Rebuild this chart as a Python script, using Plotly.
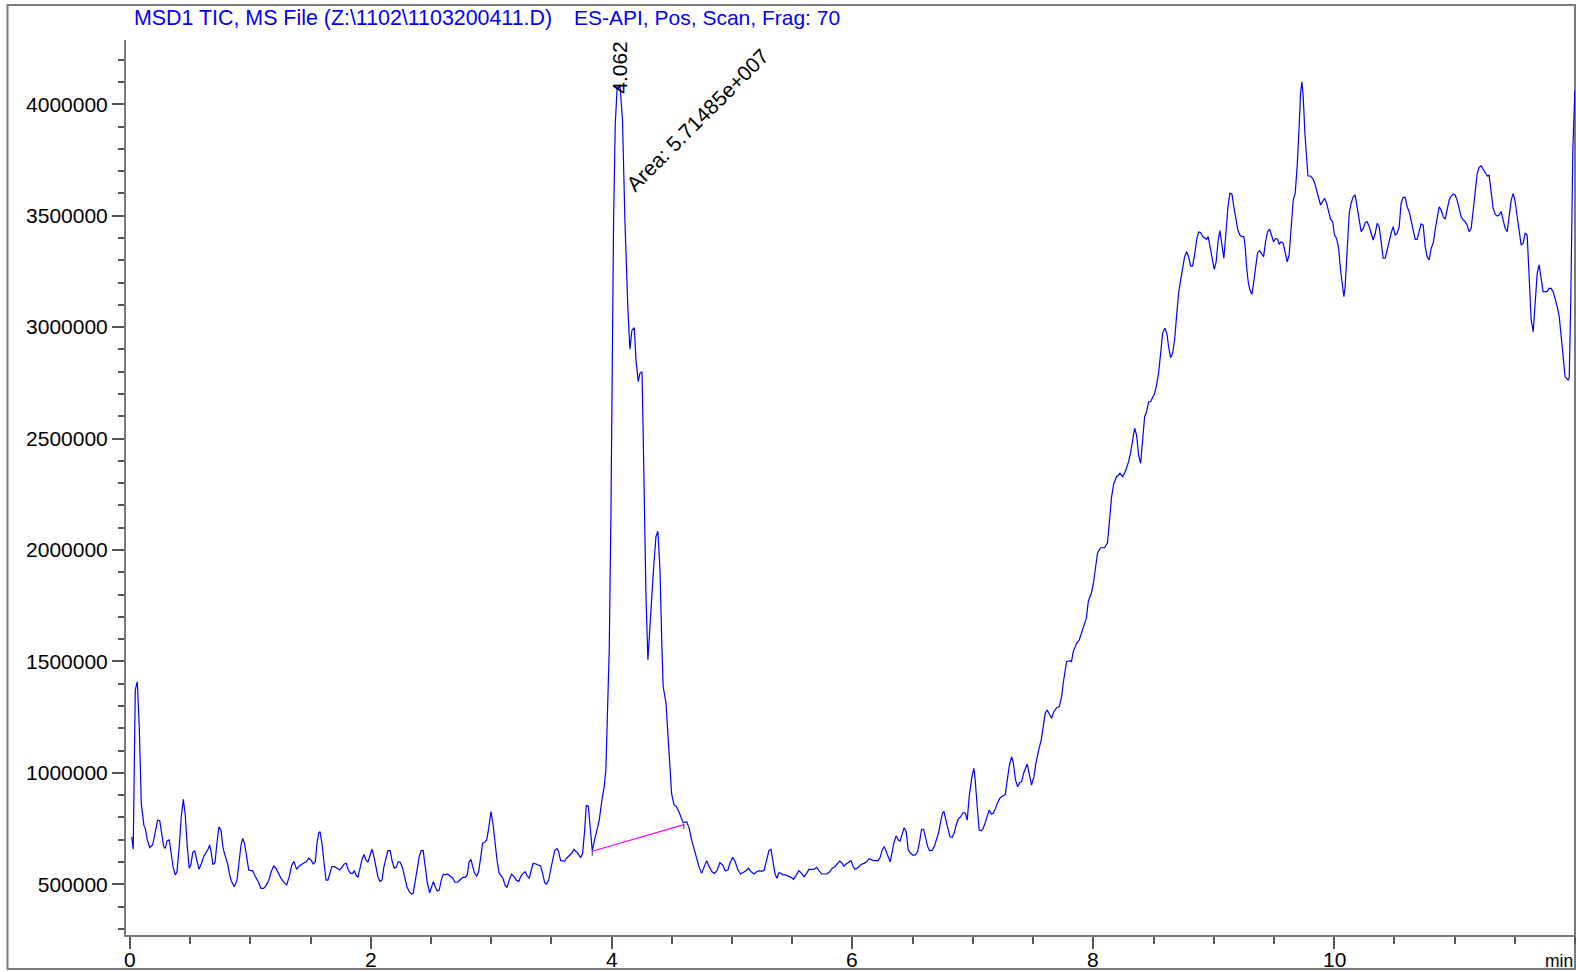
import plotly.graph_objects as go

# ---------------- data (retention time in min, TIC counts) ----------------
# 0 - 3.95 min : baseline region
seg1_t = [0.014,0.027,0.044,0.061,0.077,0.094,0.116,0.127,0.144,0.164,
          0.188,0.210,0.230,0.247,0.263,0.280,0.293,0.307,0.326,0.343,
          0.360,0.376,0.390,0.409,0.426,0.443,0.459,0.476,0.492,0.507,
          0.521,0.537,0.554,0.573,0.592,0.612,0.631,0.648,0.662,0.675,
          0.689,0.706,0.722,0.739,0.756,0.772,0.789,0.811,0.825,0.841,
          0.866,0.888,0.908,0.922,0.936,0.952,0.969,0.986,1.002,1.019,
          1.035,1.052,1.069,1.088,1.110,1.129,1.152,1.173,1.193,1.212,
          1.235,1.256,1.281,1.301,1.323,1.343,1.362,1.384,1.406,1.426,
          1.447,1.464,1.484,1.503,1.522,1.539,1.553,1.567,1.578,1.594,
          1.611,1.628,1.644,1.661,1.677,1.700,1.721,1.741,1.760,1.779,
          1.796,1.813,1.833,1.849,1.863,1.877,1.893,1.910,1.926,1.943,
          1.959,1.976,1.993,2.009,2.026,2.043,2.059,2.076,2.093,2.109,
          2.126,2.142,2.161,2.178,2.195,2.211,2.228,2.244,2.264,2.281,
          2.300,2.319,2.339,2.352,2.369,2.386,2.402,2.419,2.435,2.452,
          2.469,2.489,2.505,2.519,2.535,2.552,2.568,2.585,2.602,2.618,
          2.638,2.657,2.680,2.699,2.721,2.740,2.763,2.784,2.801,2.817,
          2.832,2.846,2.862,2.879,2.895,2.912,2.928,2.945,2.962,2.979,
          2.998,3.014,3.031,3.048,3.064,3.081,3.097,3.114,3.130,3.150,
          3.169,3.189,3.208,3.228,3.247,3.266,3.282,3.299,3.316,3.332,
          3.349,3.371,3.394,3.410,3.427,3.444,3.460,3.477,3.493,3.510,
          3.527,3.546,3.560,3.576,3.593,3.610,3.626,3.648,3.668,3.687,
          3.706,3.726,3.742,3.759,3.776,3.789,3.806,3.822,3.839,3.855,
          3.875,3.897,3.919,3.938,3.952]
seg1_i = [713000,657000,1372000,1409000,1207000,863000,763000,751000,699000,664000,
          676000,736000,788000,785000,729000,669000,661000,695000,699000,639000,
          572000,542000,556000,669000,803000,881000,811000,669000,572000,591000,
          642000,651000,609000,567000,591000,624000,642000,657000,676000,642000,
          588000,597000,684000,758000,743000,664000,631000,591000,549000,516000,
          489000,516000,609000,676000,706000,681000,624000,564000,561000,561000,
          542000,527000,507000,482000,482000,494000,516000,556000,582000,572000,
          546000,525000,507000,497000,534000,586000,603000,567000,582000,591000,
          597000,601000,617000,609000,591000,601000,684000,729000,736000,684000,
          594000,519000,519000,549000,579000,579000,572000,564000,576000,591000,
          594000,564000,549000,549000,561000,542000,531000,572000,609000,634000,
          609000,599000,627000,657000,624000,579000,534000,512000,519000,579000,
          624000,651000,651000,601000,572000,576000,601000,599000,572000,527000,
          489000,467000,456000,459000,519000,579000,624000,651000,651000,579000,
          507000,462000,489000,512000,489000,470000,474000,519000,545000,542000,
          546000,537000,527000,509000,509000,519000,531000,531000,542000,601000,
          612000,579000,549000,537000,556000,617000,684000,687000,699000,751000,
          826000,774000,684000,609000,552000,537000,527000,497000,485000,519000,
          546000,534000,519000,512000,537000,549000,556000,537000,527000,564000,
          594000,591000,586000,582000,549000,507000,501000,519000,564000,609000,
          651000,661000,646000,606000,606000,604000,617000,631000,639000,657000,
          646000,634000,619000,639000,743000,853000,851000,758000,651000,691000,
          736000,788000,878000,938000,1013000]

# 3.96 - 4.58 min : main peak (RT 4.062)
seg2_t = [3.963,3.980,3.994,4.005,4.016,4.030,4.046,4.058,4.069,4.090,
          4.110,4.135,4.152,4.168,4.188,4.202,4.221,4.235,4.252,4.262,
          4.274,4.285,4.301,4.318,4.334,4.351,4.368,4.384,4.401,4.418,
          4.428,4.451,4.467,4.484,4.498,4.517,4.540,4.561,4.581]
seg2_i = [1194000,1555000,2156000,2877000,3477000,3910000,4078000,4071000,4088000,3929000,
          3481000,3077000,2901000,2985000,2997000,2852000,2756000,2793000,2800000,2516000,
          2156000,1795000,1507000,1675000,1795000,1939000,2060000,2084000,1915000,1555000,
          1386000,1315000,1170000,1002000,906000,858000,846000,822000,798000]

# 4.59 - 7.88 min : after the peak, start of the rise
seg3_t = [4.594,4.623,4.644,4.664,4.683,4.706,4.725,4.747,4.766,4.789,
          4.810,4.833,4.855,4.877,4.899,4.922,4.943,4.966,4.982,5.005,
          5.026,5.049,5.071,5.093,5.115,5.137,5.159,5.182,5.204,5.225,
          5.248,5.267,5.287,5.306,5.323,5.339,5.356,5.372,5.389,5.406,
          5.422,5.445,5.466,5.489,5.511,5.533,5.555,5.578,5.599,5.619,
          5.638,5.661,5.682,5.702,5.721,5.744,5.765,5.788,5.810,5.832,
          5.854,5.876,5.893,5.910,5.929,5.948,5.968,5.987,6.004,6.020,
          6.039,6.059,6.078,6.097,6.117,6.136,6.155,6.175,6.194,6.213,
          6.230,6.247,6.264,6.280,6.297,6.313,6.330,6.346,6.363,6.380,
          6.396,6.413,6.429,6.446,6.463,6.483,6.502,6.521,6.541,6.557,
          6.574,6.591,6.607,6.624,6.640,6.660,6.679,6.699,6.715,6.732,
          6.748,6.759,6.776,6.792,6.809,6.828,6.845,6.861,6.878,6.898,
          6.917,6.936,6.953,6.969,6.992,7.008,7.019,7.036,7.052,7.069,
          7.085,7.102,7.119,7.135,7.152,7.168,7.185,7.202,7.224,7.246,
          7.268,7.285,7.301,7.321,7.334,7.354,7.371,7.388,7.404,7.421,
          7.438,7.451,7.467,7.487,7.507,7.523,7.546,7.567,7.584,7.600,
          7.617,7.634,7.653,7.672,7.695,7.717,7.737,7.750,7.764,7.778,
          7.805,7.819,7.833,7.861,7.883]
seg3_i = [776000,781000,751000,699000,661000,624000,579000,549000,572000,606000,
          579000,556000,549000,564000,597000,586000,561000,564000,594000,621000,
          601000,564000,546000,552000,561000,572000,556000,546000,556000,561000,
          558000,564000,609000,651000,657000,594000,549000,527000,552000,549000,
          542000,542000,537000,531000,522000,542000,561000,549000,534000,549000,
          567000,567000,567000,576000,561000,546000,546000,546000,556000,572000,
          579000,591000,604000,597000,582000,591000,601000,606000,582000,567000,
          572000,582000,591000,594000,601000,615000,609000,606000,606000,606000,
          621000,654000,669000,646000,624000,601000,646000,691000,717000,699000,
          695000,729000,754000,736000,654000,639000,631000,631000,646000,691000,
          747000,747000,706000,669000,651000,651000,669000,699000,731000,781000,
          821000,826000,788000,743000,713000,711000,731000,766000,792000,803000,
          821000,821000,788000,893000,983000,1020000,968000,848000,743000,740000,
          751000,776000,803000,833000,815000,818000,836000,863000,886000,896000,
          901000,968000,1028000,1072000,1050000,968000,938000,956000,960000,998000,
          1020000,1040000,998000,945000,983000,1043000,1102000,1147000,1207000,1267000,
          1282000,1267000,1245000,1274000,1292000,1297000,1342000,1402000,1461000,1499000,
          1503000,1499000,1544000,1581000,1596000]

# 7.94 - 8.19 min
seg4_t = [7.942,7.959,7.984,8.001,8.018,8.035,8.060,8.093,8.118,8.134,8.151,8.168,8.193]
seg4_i = [1694000,1771000,1807000,1852000,1933000,1987000,2010000,2010000,2032000,2122000,
          2235000,2294000,2330000]

# 8.20 - 12.0 min : high plateau
seg5_t = [8.198,8.221,8.243,8.265,8.293,8.309,8.326,8.343,8.359,8.376,
          8.393,8.409,8.426,8.442,8.459,8.476,8.492,8.509,8.525,8.542,
          8.559,8.575,8.594,8.611,8.625,8.642,8.658,8.675,8.691,8.708,
          8.725,8.741,8.758,8.775,8.791,8.808,8.824,8.841,8.858,8.874,
          8.891,8.908,8.924,8.941,8.954,8.971,8.987,9.004,9.020,9.037,
          9.051,9.068,9.084,9.101,9.118,9.134,9.151,9.167,9.184,9.200,
          9.217,9.234,9.250,9.261,9.273,9.286,9.300,9.317,9.331,9.347,
          9.364,9.381,9.397,9.414,9.430,9.447,9.464,9.480,9.497,9.513,
          9.530,9.543,9.560,9.577,9.593,9.610,9.626,9.643,9.660,9.676,
          9.693,9.709,9.721,9.732,9.743,9.757,9.771,9.782,9.804,9.821,
          9.837,9.854,9.871,9.887,9.904,9.920,9.937,9.954,9.970,9.987,
          10.003,10.020,10.037,10.053,10.070,10.081,10.091,10.108,10.125,10.141,
          10.158,10.174,10.191,10.208,10.224,10.241,10.258,10.274,10.291,10.307,
          10.324,10.341,10.357,10.374,10.390,10.407,10.424,10.440,10.457,10.473,
          10.490,10.507,10.523,10.540,10.556,10.573,10.590,10.606,10.623,10.639,
          10.656,10.673,10.689,10.706,10.722,10.739,10.756,10.772,10.789,10.806,
          10.822,10.839,10.855,10.872,10.889,10.905,10.922,10.939,10.955,10.972,
          10.988,11.005,11.021,11.038,11.055,11.071,11.088,11.104,11.121,11.138,
          11.154,11.171,11.188,11.204,11.221,11.237,11.254,11.271,11.287,11.304,
          11.320,11.337,11.354,11.370,11.387,11.403,11.420,11.437,11.453,11.470,
          11.487,11.503,11.520,11.536,11.553,11.569,11.586,11.603,11.619,11.636,
          11.653,11.669,11.686,11.702,11.719,11.735,11.752,11.769,11.785,11.802,
          11.819,11.835,11.852,11.869,11.885,11.902,11.918,11.943,11.952,11.965,
          11.982,11.999]
seg5_i = [2329000,2344000,2329000,2351000,2396000,2434000,2493000,2546000,2516000,2426000,
          2389000,2508000,2598000,2620000,2665000,2665000,2688000,2703000,2740000,2793000,
          2882000,2972000,2995000,2972000,2912000,2863000,2882000,2942000,3047000,3152000,
          3211000,3264000,3316000,3338000,3316000,3274000,3274000,3324000,3391000,3427000,
          3424000,3406000,3398000,3394000,3406000,3361000,3309000,3259000,3293000,3391000,
          3433000,3368000,3309000,3421000,3540000,3600000,3597000,3540000,3488000,3436000,
          3413000,3406000,3406000,3361000,3271000,3204000,3166000,3147000,3197000,3271000,
          3334000,3343000,3328000,3316000,3383000,3428000,3439000,3406000,3383000,3398000,
          3394000,3373000,3383000,3376000,3338000,3293000,3324000,3451000,3570000,3600000,
          3720000,3899000,4049000,4101000,4034000,3870000,3750000,3678000,3678000,3668000,
          3648000,3615000,3570000,3548000,3563000,3578000,3556000,3513000,3484000,3473000,
          3413000,3398000,3354000,3256000,3166000,3136000,3181000,3361000,3511000,3556000,
          3585000,3593000,3540000,3473000,3428000,3443000,3469000,3473000,3451000,3421000,
          3391000,3421000,3466000,3451000,3391000,3309000,3309000,3346000,3391000,3421000,
          3451000,3413000,3421000,3451000,3556000,3582000,3582000,3540000,3518000,3481000,
          3436000,3394000,3394000,3436000,3463000,3458000,3361000,3316000,3301000,3354000,
          3376000,3436000,3495000,3540000,3525000,3495000,3484000,3533000,3570000,3588000,
          3597000,3593000,3570000,3533000,3495000,3481000,3473000,3458000,3428000,3443000,
          3525000,3630000,3690000,3717000,3723000,3708000,3690000,3678000,3682000,3600000,
          3533000,3507000,3498000,3503000,3518000,3481000,3443000,3428000,3495000,3570000,
          3600000,3563000,3495000,3421000,3368000,3376000,3421000,3413000,3226000,3032000,
          2979000,3122000,3241000,3279000,3226000,3159000,3159000,3159000,3174000,3174000,
          3159000,3129000,3092000,3047000,2957000,2867000,2777000,2763000,2772000,3122000,
          3795000,4064000]

# integration baseline of the 4.062 min peak
baseline_t = [3.839, 4.600]
baseline_i = [648000, 768000]

peak_rt_label = "4.062"
peak_area_label = "Area: 5.71485e+007"
peak_rt_pos = (4.069, 4168000)
peak_area_pos = (4.717, 3931000)

x_tickvals = [0, 2, 4, 6, 8, 10]
x_ticktext = ["0", "2", "4", "6", "8", "10"]
y_tickvals = [500000, 1000000, 1500000, 2000000, 2500000, 3000000, 3500000, 4000000]
y_ticktext = ["500000", "1000000", "1500000", "2000000", "2500000", "3000000", "3500000", "4000000"]

title_part1 = "MSD1 TIC, MS File (Z:\\1102\\1103200411.D)"
title_part2 = "ES-API, Pos, Scan, Frag: 70"

# ---------------- figure ----------------
time_min = seg1_t + seg2_t + seg3_t + seg4_t + seg5_t
tic = seg1_i + seg2_i + seg3_i + seg4_i + seg5_i

FONT = "Liberation Sans, Arial, sans-serif"
W, H = 1576, 972
L, R, T, B = 126, 1, 40, 37
PW, PH = W - L - R, H - T - B

def px(xp):
    return (xp - L) / PW

def py(yp):
    return (H - B - yp) / PH

fig = go.Figure()
fig.add_trace(go.Scatter(x=time_min, y=tic, mode="lines",
                         line=dict(color="#0000FF", width=1.2), hoverinfo="skip"))
fig.add_trace(go.Scatter(x=baseline_t, y=baseline_i, mode="lines",
                         line=dict(color="#FF00FF", width=1.2), hoverinfo="skip"))
# small black markers at the baseline end points
tick_len = 20000
mk_x, mk_y = [], []
for bt, bi in zip(baseline_t, baseline_i):
    mk_x += [bt, bt, None]
    mk_y += [bi + 2000, bi - tick_len, None]
fig.add_trace(go.Scatter(x=mk_x, y=mk_y, mode="lines",
                         line=dict(color="#333333", width=1), hoverinfo="skip"))

axis_common = dict(showgrid=False, zeroline=False, showline=True, linecolor="#7a7a7a",
                   linewidth=2, ticks="outside", tickcolor="#555555", tickwidth=1.5,
                   automargin=False,
                   tickfont=dict(family=FONT, size=21, color="black"))

fig.update_layout(
    width=W, height=H,
    margin=dict(l=L, r=R, t=T, b=B, pad=0, autoexpand=False),
    paper_bgcolor="white", plot_bgcolor="white",
    showlegend=False,
    font=dict(family=FONT, size=21, color="black"),
    xaxis=dict(range=[-0.033, 12.0], tickmode="array", tickvals=x_tickvals, ticktext=x_ticktext,
               ticklen=12, showticklabels=False,
               minor=dict(tickmode="linear", tick0=0, dtick=0.5, ticks="outside", ticklen=7,
                          tickcolor="#555555", tickwidth=1.5),
               **axis_common),
    yaxis=dict(range=[272400, 4288200], tickmode="array", tickvals=y_tickvals, ticktext=y_ticktext,
               ticklen=12,
               minor=dict(tickmode="linear", tick0=0, dtick=100000, ticks="outside", ticklen=6,
                          tickcolor="#555555", tickwidth=1.5),
               **axis_common),
)

# x tick labels placed just under the ticks
for tv, tt in zip(x_tickvals, x_ticktext):
    fig.add_annotation(x=tv, xref="x", yref="paper", y=py(959.5), text=tt,
                       showarrow=False, xanchor="center", yanchor="middle",
                       font=dict(family=FONT, size=21, color="black"))

# outer frame
fig.add_shape(type="rect", xref="paper", yref="paper",
              x0=px(7.5), x1=px(1575), y0=py(969), y1=py(5),
              line=dict(color="#7a7a7a", width=2), fillcolor="rgba(0,0,0,0)", layer="below")

# title (blue)
fig.add_annotation(xref="paper", yref="paper", x=px(132), y=py(17.5), text=title_part1,
                   showarrow=False, xanchor="left", yanchor="middle",
                   font=dict(family=FONT, size=21.4, color="#0000FF"))
fig.add_annotation(xref="paper", yref="paper", x=px(572), y=py(17.5), text=title_part2,
                   showarrow=False, xanchor="left", yanchor="middle",
                   font=dict(family=FONT, size=21, color="#0000FF"))

# peak labels
fig.add_annotation(x=peak_rt_pos[0], y=peak_rt_pos[1], text=peak_rt_label, textangle=-90,
                   showarrow=False, xanchor="center", yanchor="middle",
                   font=dict(family=FONT, size=21, color="black"))
fig.add_annotation(x=peak_area_pos[0], y=peak_area_pos[1], text=peak_area_label, textangle=-45,
                   showarrow=False, xanchor="center", yanchor="middle",
                   font=dict(family=FONT, size=21, color="black"))

# axis unit label
fig.add_annotation(xref="paper", yref="paper", x=px(1575), y=py(961), text="min",
                   showarrow=False, xanchor="right", yanchor="middle",
                   font=dict(family=FONT, size=17.5, color="black"))

fig.write_html("out.html", config={"displayModeBar": False},
               post_script="document.body.style.margin='0';document.body.style.overflow='hidden';")
